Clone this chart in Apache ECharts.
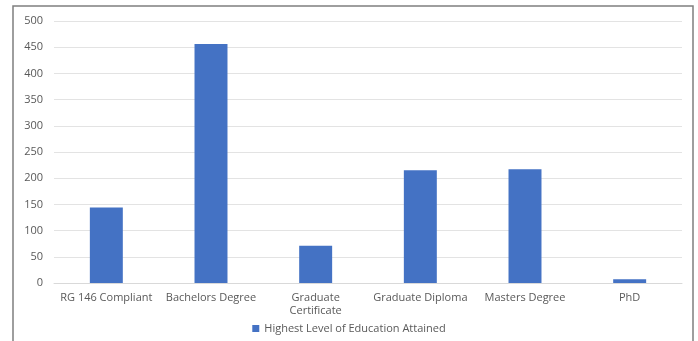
<!DOCTYPE html>
<html>
<head>
<meta charset="utf-8">
<script src="https://cdn.jsdelivr.net/npm/echarts@6/dist/echarts.min.js"></script>
<style>
  html, body { margin: 0; padding: 0; background: #fff; }
  #chart { width: 698px; height: 341px; }
</style>
</head>
<body>
<div id="chart"></div>
<script>
// Education levels and the headcount for each
const categories = ['RG 146 Compliant', 'Bachelors Degree', 'Graduate\nCertificate', 'Graduate Diploma', 'Masters Degree', 'PhD'];
const counts = [144, 456, 71, 215, 217, 7];
const seriesName = 'Highest Level of Education Attained';
const yTicks = { min: 0, max: 500, interval: 50 };

const textColor = '#595959';
const fontFamily = '"Open Sans", "Noto Sans", sans-serif';

const chart = echarts.init(document.getElementById('chart'), null, { renderer: 'canvas' });

chart.setOption({
  animation: false,
  backgroundColor: '#ffffff',
  graphic: [{
    type: 'rect',
    shape: { x: 13, y: 6, width: 680, height: 345 },
    style: { fill: 'none', stroke: '#7f7f7f', lineWidth: 1.5 },
    silent: true,
    z: 10
  }],
  grid: { left: 54, right: 16, top: 21, bottom: 58, containLabel: false },
  legend: {
    data: [seriesName],
    bottom: 2,
    left: 'center',
    itemWidth: 7,
    itemHeight: 7,
    itemGap: 4,
    icon: 'rect',
    textStyle: { color: textColor, fontSize: 11, fontFamily: fontFamily }
  },
  xAxis: {
    type: 'category',
    data: categories,
    axisLine: { show: true, lineStyle: { color: '#d9d9d9', width: 1 } },
    axisTick: { show: false },
    axisLabel: {
      color: textColor,
      fontSize: 11,
      fontFamily: fontFamily,
      margin: 8,
      lineHeight: 13,
      interval: 0
    }
  },
  yAxis: {
    type: 'value',
    min: yTicks.min,
    max: yTicks.max,
    interval: yTicks.interval,
    axisLine: { show: false },
    axisTick: { show: false },
    splitLine: { lineStyle: { color: '#e3e3e3', width: 1 } },
    axisLabel: {
      color: textColor,
      fontSize: 11,
      fontFamily: fontFamily,
      margin: 11
    }
  },
  series: [{
    name: seriesName,
    type: 'bar',
    data: counts,
    barWidth: '31.5%',
    itemStyle: { color: '#4472c4' }
  }]
});
</script>
</body>
</html>
